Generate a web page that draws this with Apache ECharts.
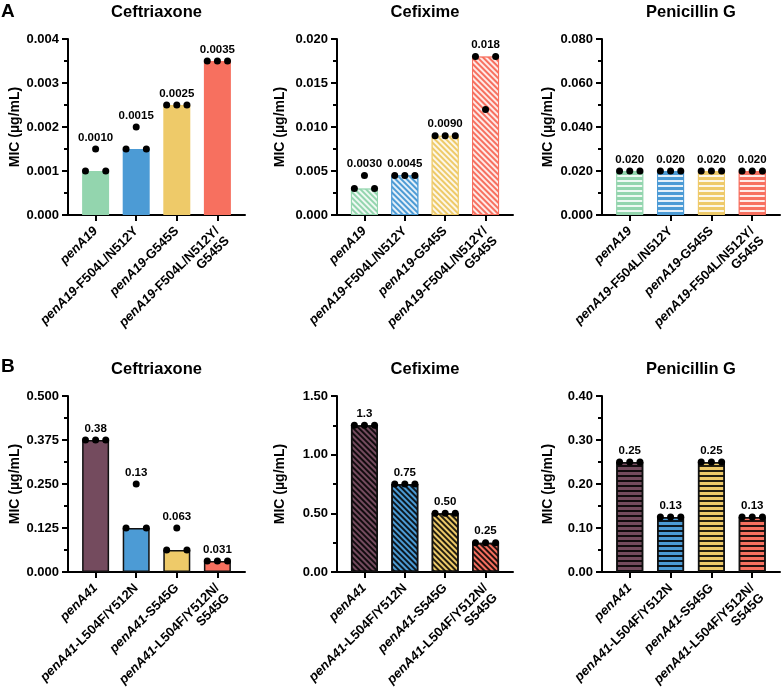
<!DOCTYPE html>
<html>
<head>
<meta charset="utf-8">
<script src="https://cdn.jsdelivr.net/npm/echarts@6/dist/echarts.min.js"></script>
<style>
	html, body { margin: 0; padding: 0; background: #fff; }
	#chart { width: 782px; height: 692px; }
</style>
</head>
<body>
<div id="chart"></div>
<script>
	// 抗生素名称
	const drugs = ['Ceftriaxone', 'Cefixime', 'Penicillin G'];

	// 菌株名 (italic part in {i|...}); the leading blank line keeps the two-line label's first line in line with the others
	const strainsA = ['{i|penA19}', '{i|penA19}-F504L/N512Y', '{i|penA19}-G545S', ' \n{i|penA19}-F504L/N512Y/\nG545S'];
	const strainsB = ['{i|penA41}', '{i|penA41}-L504F/Y512N', '{i|penA41}-S545G', ' \n{i|penA41}-L504F/Y512N/\nS545G'];

	// replicate MIC values (three dots per strain)
	const ceftriaxoneA = [[0.001, 0.0015, 0.001], [0.0015, 0.002, 0.0015], [0.0025, 0.0025, 0.0025], [0.0035, 0.0035, 0.0035]];
	const cefiximeA = [[0.003, 0.0045, 0.003], [0.0045, 0.0045, 0.0045], [0.009, 0.009, 0.009], [0.018, 0.012, 0.018]];
	const penicillinA = [[0.02, 0.02, 0.02], [0.02, 0.02, 0.02], [0.02, 0.02, 0.02], [0.02, 0.02, 0.02]];
	const ceftriaxoneB = [[0.375, 0.375, 0.375], [0.125, 0.25, 0.125], [0.0625, 0.125, 0.0625], [0.03125, 0.03125, 0.03125]];
	const cefiximeB = [[1.25, 1.25, 1.25], [0.75, 0.75, 0.75], [0.5, 0.5, 0.5], [0.25, 0.25, 0.25]];
	const penicillinB = [[0.25, 0.25, 0.25], [0.125, 0.125, 0.125], [0.25, 0.25, 0.25], [0.125, 0.125, 0.125]];

	// bar heights (median MIC)
	const barCeftriaxoneA = [0.001, 0.0015, 0.0025, 0.0035];
	const barCefiximeA = [0.003, 0.0045, 0.009, 0.018];
	const barPenicillinA = [0.02, 0.02, 0.02, 0.02];
	const barCeftriaxoneB = [0.375, 0.125, 0.0625, 0.03125];
	const barCefiximeB = [1.25, 0.75, 0.5, 0.25];
	const barPenicillinB = [0.25, 0.125, 0.25, 0.125];

	// value labels above bars
	const lblCeftriaxoneA = ['0.0010', '0.0015', '0.0025', '0.0035'];
	const lblCefiximeA = ['0.0030', '0.0045', '0.0090', '0.018'];
	const lblPenicillinA = ['0.020', '0.020', '0.020', '0.020'];
	const lblCeftriaxoneB = ['0.38', '0.13', '0.063', '0.031'];
	const lblCefiximeB = ['1.3', '0.75', '0.50', '0.25'];
	const lblPenicillinB = ['0.25', '0.13', '0.25', '0.13'];

	// y axis: max, interval, decimals
	const yMaxA = [0.004, 0.02, 0.08];
	const yStepA = [0.001, 0.005, 0.02];
	const yMaxB = [0.5, 1.5, 0.4];
	const yStepB = [0.125, 0.5, 0.1];
	const yDecimalsA = [3, 3, 3];
	const yDecimalsB = [3, 2, 2];

	const FONT = '"Liberation Sans", Arial, sans-serif';
	const colorsA = ['#93d5ae', '#4c9bd5', '#eeca69', '#f7705f'];
	const colorsB = ['#744b5e', '#4c9bd5', '#eeca69', '#f7705f'];

	const gridLefts = [68, 337, 602];
	const gridWidths = [177, 176, 178];
	const gridTops = [39, 396];
	const nameGaps = [45, 50, 47];

	const panels = [
		{ reps: ceftriaxoneA, bars: barCeftriaxoneA, lbls: lblCeftriaxoneA, strains: strainsA, colors: colorsA, row: 0, col: 0, fill: 'solid', dark: false },
		{ reps: cefiximeA, bars: barCefiximeA, lbls: lblCefiximeA, strains: strainsA, colors: colorsA, row: 0, col: 1, fill: 'diag', dark: false },
		{ reps: penicillinA, bars: barPenicillinA, lbls: lblPenicillinA, strains: strainsA, colors: colorsA, row: 0, col: 2, fill: 'horiz', dark: false },
		{ reps: ceftriaxoneB, bars: barCeftriaxoneB, lbls: lblCeftriaxoneB, strains: strainsB, colors: colorsB, row: 1, col: 0, fill: 'solid', dark: true },
		{ reps: cefiximeB, bars: barCefiximeB, lbls: lblCefiximeB, strains: strainsB, colors: colorsB, row: 1, col: 1, fill: 'diag', dark: true },
		{ reps: penicillinB, bars: barPenicillinB, lbls: lblPenicillinB, strains: strainsB, colors: colorsB, row: 1, col: 2, fill: 'horiz', dark: true },
	];

	function makeDecal(fill, dark) {
		if (fill === 'solid') return null;
		const c = dark ? 'rgba(0,0,0,0.85)' : 'rgba(255,255,255,0.85)';
		if (fill === 'diag') {
			// stripes running top-left -> bottom-right
			return { symbol: 'rect', symbolSize: 1, dashArrayX: [1, 0], dashArrayY: [1.2, 1.8], rotation: Math.PI / 4, color: c };
		}
		return { symbol: 'rect', symbolSize: 1, dashArrayX: [1, 0], dashArrayY: [1.2, 3], rotation: 0, color: c };
	}

	const chart = echarts.init(document.getElementById('chart'), null, { renderer: 'canvas' });

	let grid = [], xAxis = [], yAxis = [], series = [], graphic = [];

	panels.forEach((p, k) => {
		const left = gridLefts[p.col], width = gridWidths[p.col], top = gridTops[p.row];
		grid.push({ left: left, top: top, width: width, height: 176, outerBoundsMode: 'none', containLabel: false });

		const yMax = p.row === 0 ? yMaxA[p.col] : yMaxB[p.col];
		const yStep = p.row === 0 ? yStepA[p.col] : yStepB[p.col];
		const dec = p.row === 0 ? yDecimalsA[p.col] : yDecimalsB[p.col];

		xAxis.push({
			gridIndex: k,
			type: 'value',
			min: -0.68,
			max: 3.68,
			splitLine: { show: false },
			axisLine: { show: true, lineStyle: { color: '#000', width: 2 } },
			axisTick: { show: true, customValues: [0, 1, 2, 3], length: 6, lineStyle: { color: '#000', width: 2 } },
			axisLabel: {
				customValues: [0, 1, 2, 3],
				formatter: (v) => p.strains[Math.round(v)],
				rotate: 45,
				margin: 14,
				color: '#000',
				fontFamily: FONT,
				fontSize: 13,
				fontWeight: 'bold',
				lineHeight: 14,
				rich: {
					i: { fontStyle: 'italic', fontWeight: 'bold', fontSize: 13, lineHeight: 14, fontFamily: FONT, color: '#000' }
				}
			}
		});

		yAxis.push({
			gridIndex: k,
			type: 'value',
			min: 0,
			max: yMax,
			interval: yStep,
			name: 'MIC (µg/mL)',
			nameLocation: 'middle',
			nameGap: nameGaps[p.col],
			nameTextStyle: { color: '#000', fontFamily: FONT, fontSize: 14, fontWeight: 'bold' },
			splitLine: { show: false },
			axisLine: { show: true, onZero: false, lineStyle: { color: '#000', width: 2 } },
			axisTick: { show: true, length: 6, lineStyle: { color: '#000', width: 2 } },
			minorTick: { show: true, splitNumber: 2, length: 4, lineStyle: { color: '#000', width: 2 } },
			axisLabel: {
				margin: 9,
				color: '#000',
				fontFamily: FONT,
				fontSize: 13,
				fontWeight: 'bold',
				formatter: (v) => v.toFixed(dec)
			}
		});

		// bars
		series.push({
			type: 'bar',
			xAxisIndex: k,
			yAxisIndex: k,
			barWidth: 27,
			silent: true,
			data: p.bars.map((v, i) => ({
				value: [i, v],
				itemStyle: {
					color: p.colors[i],
					borderColor: p.dark ? '#111' : p.colors[i],
					borderWidth: p.dark ? 1.5 : (p.fill === 'solid' ? 0 : 1),
					decal: makeDecal(p.fill, p.dark)
				}
			})),
			z: 2
		});

		// replicate dots
		let dots = [];
		p.reps.forEach((r, i) => {
			r.forEach((v, j) => dots.push([i + (j - 1) * 0.25, v]));
		});
		series.push({
			type: 'scatter',
			xAxisIndex: k,
			yAxisIndex: k,
			symbol: 'circle',
			symbolSize: 7,
			itemStyle: { color: '#000', opacity: 1 },
			silent: true,
			data: dots,
			z: 4
		});

		// labels above the highest dot
		series.push({
			type: 'scatter',
			xAxisIndex: k,
			yAxisIndex: k,
			symbolSize: 1,
			itemStyle: { color: 'rgba(0,0,0,0)', opacity: 1 },
			silent: true,
			label: {
				show: true,
				position: 'top',
				distance: 5,
				color: '#000',
				opacity: 1,
				fontFamily: FONT,
				fontSize: 11.5,
				fontWeight: 'bold',
				formatter: (params) => p.lbls[params.dataIndex]
			},
			data: p.reps.map((r, i) => [i, Math.max.apply(null, r)]),
			z: 5
		});

		// panel title
		graphic.push({
			type: 'text',
			x: left + width / 2,
			y: top - 35,
			style: {
				text: drugs[p.col],
				textAlign: 'center',
				fill: '#000',
				font: 'bold 16.5px ' + FONT
			}
		});
	});

	graphic.push({ type: 'text', x: 1, y: 2, style: { text: 'A', fill: '#000', font: 'bold 19px ' + FONT } });
	graphic.push({ type: 'text', x: 1, y: 357, style: { text: 'B', fill: '#000', font: 'bold 19px ' + FONT } });

	const option = {
		animation: false,
		backgroundColor: '#fff',
		grid: grid,
		xAxis: xAxis,
		yAxis: yAxis,
		series: series,
		graphic: graphic
	};

	chart.setOption(option);
</script>
</body>
</html>
